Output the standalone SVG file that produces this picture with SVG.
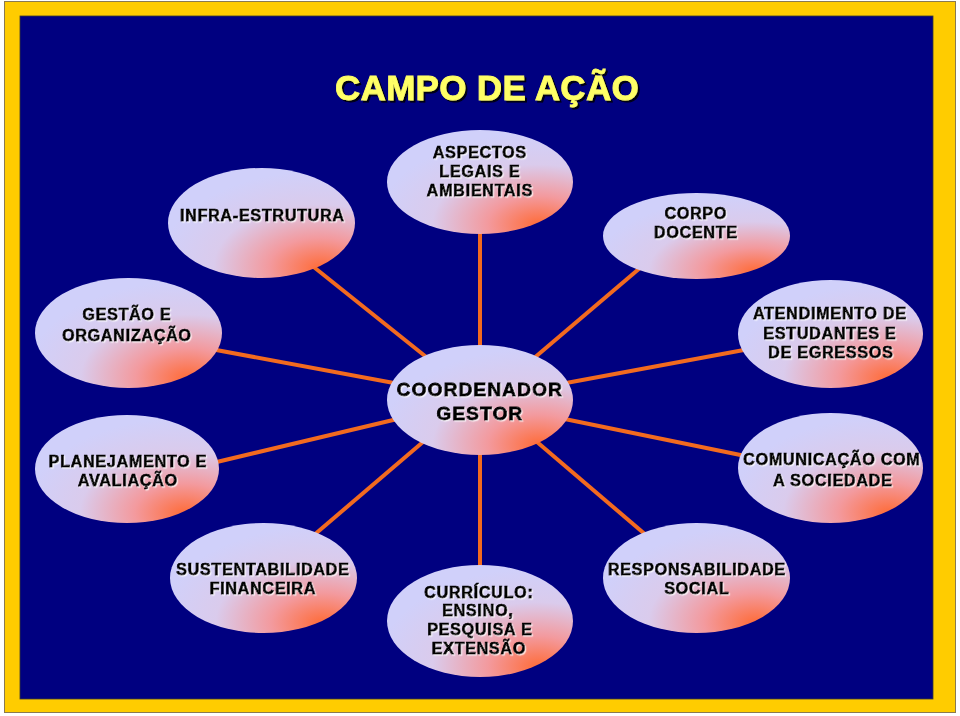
<svg xmlns="http://www.w3.org/2000/svg" width="960" height="716" viewBox="0 0 960 716">
<defs>
<radialGradient id="g" cx="0.8" cy="0.88" r="0.85" fx="0.82" fy="0.92">
<stop offset="0" stop-color="#FF6A35"/>
<stop offset="0.32" stop-color="#F39A9E"/>
<stop offset="0.66" stop-color="#DACBEC"/>
<stop offset="1" stop-color="#D0D0FA"/>
</radialGradient>
<filter id="ts" x="-10%" y="-30%" width="120%" height="160%">
<feDropShadow dx="1.2" dy="1.2" stdDeviation="0.4" flood-color="#FFFFFF" flood-opacity="0.75"/>
</filter>
<filter id="tt" x="-10%" y="-30%" width="120%" height="160%">
<feDropShadow dx="2" dy="2" stdDeviation="0.6" flood-color="#000000" flood-opacity="0.85"/>
</filter>
</defs>
<style>
.n{fill:url(#g);}
.t{font-family:"Liberation Sans",Arial,sans-serif;font-weight:bold;font-size:16px;letter-spacing:0.8px;fill:#000;stroke:#000;stroke-width:0.75px;text-anchor:middle;filter:url(#ts);}
.c{font-size:19px;letter-spacing:1.2px;stroke-width:0.85px;}
.ln{stroke:#F26A1F;stroke-width:4;fill:none;}
</style>
<rect x="4.5" y="1.5" width="951" height="711" fill="#FFCC00" stroke="#8A7A50" stroke-width="1"/>
<rect x="20" y="16" width="913" height="683" fill="#000080" stroke="#3A3A30" stroke-width="0.8"/>
<text x="487" y="100" font-family="Liberation Sans,Arial,sans-serif" font-weight="bold" font-size="35" letter-spacing="0.3" fill="#FFFF66" stroke="#FFFF66" stroke-width="0.8" text-anchor="middle" filter="url(#tt)">CAMPO DE AÇÃO</text>
<g id="connectors">
<line class="ln" x1="300" y1="256" x2="440" y2="368"/>
<line class="ln" x1="480" y1="225" x2="480" y2="360"/>
<line class="ln" x1="660" y1="251" x2="520" y2="370"/>
<line class="ln" x1="200" y1="347" x2="410" y2="386"/>
<line class="ln" x1="760" y1="347" x2="550" y2="386"/>
<line class="ln" x1="200" y1="466" x2="410" y2="416"/>
<line class="ln" x1="760" y1="459" x2="550" y2="416"/>
<line class="ln" x1="300" y1="547" x2="430" y2="436"/>
<line class="ln" x1="480" y1="440" x2="480" y2="580"/>
<line class="ln" x1="660" y1="547" x2="530" y2="436"/>
</g>
<g id="infra"><ellipse class="n" cx="261.5" cy="223" rx="93.5" ry="55"/><text class="t" x="262.5" y="221">INFRA-ESTRUTURA</text></g>
<g id="aspectos"><ellipse class="n" cx="480" cy="182" rx="93" ry="52"/><text class="t" x="480" y="158">ASPECTOS</text><text class="t" x="480" y="177">LEGAIS E</text><text class="t" x="480" y="196">AMBIENTAIS</text></g>
<g id="corpo"><ellipse class="n" cx="696.5" cy="236" rx="93.5" ry="43"/><text class="t" x="696" y="219">CORPO</text><text class="t" x="696" y="238">DOCENTE</text></g>
<g id="gestao"><ellipse class="n" cx="128.5" cy="333" rx="93.5" ry="55"/><text class="t" x="127" y="320">GESTÃO E</text><text class="t" x="127" y="341">ORGANIZAÇÃO</text></g>
<g id="atendimento"><ellipse class="n" cx="830.5" cy="334" rx="92.5" ry="54"/><text class="t" x="830" y="319">ATENDIMENTO DE</text><text class="t" x="830" y="339">ESTUDANTES E</text><text class="t" x="831" y="358">DE EGRESSOS</text></g>
<g id="coordenador"><ellipse class="n" cx="480" cy="400" rx="93" ry="55"/><text class="t c" x="480" y="396">COORDENADOR</text><text class="t c" x="480" y="420">GESTOR</text></g>
<g id="planejamento"><ellipse class="n" cx="127" cy="469" rx="92" ry="54"/><text class="t" x="128" y="467">PLANEJAMENTO E</text><text class="t" x="128" y="486">AVALIAÇÃO</text></g>
<g id="comunicacao"><ellipse class="n" cx="830.5" cy="468" rx="92.5" ry="55"/><text class="t" x="832" y="465">COMUNICAÇÃO COM</text><text class="t" x="833" y="486">A SOCIEDADE</text></g>
<g id="sustentabilidade"><ellipse class="n" cx="263.5" cy="578" rx="93.5" ry="55"/><text class="t" x="263" y="575">SUSTENTABILIDADE</text><text class="t" x="263" y="594">FINANCEIRA</text></g>
<g id="curriculo"><ellipse class="n" cx="480" cy="621" rx="93" ry="56"/><text class="t" x="479" y="598">CURRÍCULO:</text><text class="t" x="478" y="616">ENSINO,</text><text class="t" x="480" y="635">PESQUISA E</text><text class="t" x="479" y="654">EXTENSÃO</text></g>
<g id="responsabilidade"><ellipse class="n" cx="696.5" cy="578" rx="93.5" ry="55"/><text class="t" x="697" y="575">RESPONSABILIDADE</text><text class="t" x="697" y="594">SOCIAL</text></g>
</svg>
